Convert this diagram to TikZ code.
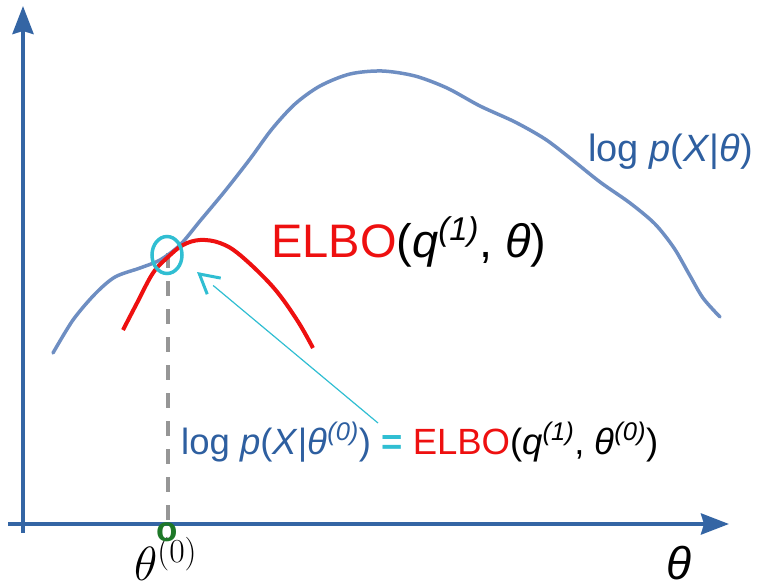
\documentclass[tikz,border=0pt]{standalone}
\usepackage{fix-cm}
\usepackage[no-math]{fontspec}
\setmainfont{Liberation Sans}
\usetikzlibrary{arrows.meta,calc,shapes.geometric}
\definecolor{axisblue}{RGB}{52,101,164}
\definecolor{curveblue}{RGB}{110,142,194}
\definecolor{labelblue}{RGB}{46,95,160}
\definecolor{elbored}{RGB}{238,16,16}
\definecolor{cyanmark}{RGB}{48,190,210}
\definecolor{dashgray}{RGB}{150,150,150}
\definecolor{dotgreen}{RGB}{30,120,40}
\newcommand\itsup[1]{\textsuperscript{\itshape#1}}
\begin{document}
\begin{tikzpicture}[x=1pt,y=-1pt,
  axisline/.style={draw=axisblue, line width=4pt, -{Stealth[length=28pt,width=21pt,inset=3pt]}},
  lbl/.style={inner sep=0pt, anchor=base west}]
\useasboundingbox (0,0) rectangle (763,588);
% coordinates
\coordinate (yb) at (23,533);
\coordinate (yt) at (23,6);
\coordinate (xl) at (8,524);
\coordinate (xr) at (729,524);
% dashed guide
\coordinate (dtop) at (167.5,253);
\coordinate (dbot) at (167.5,521);
\draw[dashgray, line width=4pt, dash pattern=on 15pt off 13pt] (dtop) -- (dbot);
% axes
\draw[axisline] (yb) -- (yt);
\draw[axisline] (xl) -- (xr);
% log-likelihood curve
\draw[curveblue, line width=3.5pt, line cap=round] plot[smooth, tension=0.5] coordinates {
 (53,353) (73,320) (95,294) (115,277) (140,268) (160,260) (180,245) (200,221)
 (225,191) (250,159) (272,129) (295,104) (320,86) (350,74) (382,71) (415,76)
 (447,88) (480,106) (515,122) (545,139) (570,158) (600,182) (630,203) (655,224)
 (674,248) (689,274) (703,298) (720,317)};
% ELBO curve
\draw[elbored, line width=4pt] plot[smooth, tension=0.6] coordinates {
 (123,330) (137,303) (153,273) (168,257) (183,245) (200,240) (220,243) (240,255)
 (273,287) (297,320) (313,348)};
% marker ellipse
\node[draw=cyanmark, line width=3.5pt, ellipse, minimum width=30pt, minimum height=37pt, inner sep=0pt] (circ) at (167,255) {};
% texts
\node[lbl, text=labelblue, font=\fontsize{38}{42}\selectfont] (lp) at (588,162)
  {log \textit{p}(\textit{X}|\textit{θ})};
\node[lbl, font=\fontsize{47}{52}\selectfont] (elbo) at (271,258)
  {{\color{elbored}ELBO}(\textit{q}\itsup{(1)}, \textit{θ})};
\node[lbl, font=\fontsize{36.5}{42}\selectfont] (eq) at (181,454)
  {{\color{labelblue}log \textit{p}(\textit{X}|\textit{θ}\itsup{(0)})} {\color{cyanmark}\textbf{=}} {\color{elbored}ELBO}(\textit{q}\itsup{(1)}, \textit{θ}\itsup{(0)})};
\node[lbl, text depth=0pt, font=\fontsize{46}{50}\selectfont\itshape] (th) at (666,579) {θ};
\node[lbl, text depth=0pt, font=\fontsize{48}{54}\selectfont] (th0) at (134,580) {$\theta^{(0)}$};
\node[font=\fontsize{35}{35}\selectfont\bfseries, text=dotgreen, inner sep=0pt] (dot) at (167,532) {o};
% pointer arrow
\coordinate (astart) at (378,423);
\coordinate (tip) at (197,272);
\draw[cyanmark, line width=1.2pt] (astart) -- ($(tip)!21pt!(astart)$);
\draw[cyanmark, line width=3pt, -{Straight Barb[length=19pt,width=21pt]}] ($(tip)!3pt!(astart)$) -- (tip);
\end{tikzpicture}
\end{document}
